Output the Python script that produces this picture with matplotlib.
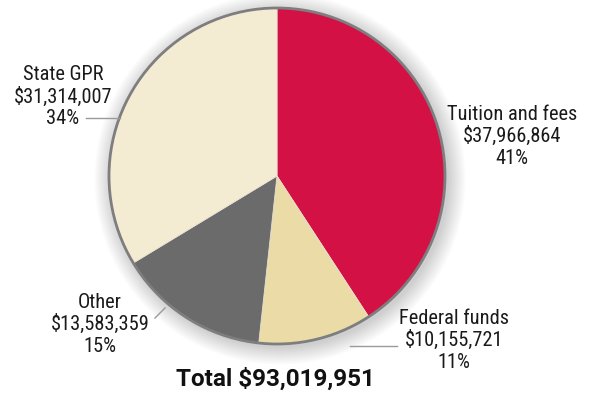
import matplotlib.pyplot as plt
from matplotlib.patches import Circle
from matplotlib import font_manager

# revenue sources
sources = ['Tuition and fees', 'Federal funds', 'Other', 'State GPR']
amounts = [37966864, 10155721, 13583359, 31314007]
colors = ['#D31145', '#EBDBA6', '#6B6B6C', '#F4ECD2']

W, H = 594, 395
fig = plt.figure(figsize=(W / 100, H / 100), dpi=100)
ax = fig.add_axes([0, 0, 1, 1])

cx, cy, r = 277, H - 176, 168

# soft drop shadow around the pie
for k in range(12):
    ax.add_patch(Circle((cx + 3, cy - 3), r + 1 + k * 1.5, color='#000000',
                        alpha=0.014, lw=0, zorder=0))

ax.pie(amounts, colors=colors, startangle=90, counterclock=False,
       center=(cx, cy), radius=r, frame=True,
       wedgeprops=dict(linewidth=0.6, edgecolor='#E8E0D0'))
ax.add_patch(Circle((cx, cy), r, fill=False, edgecolor='#7E7E80', lw=2.0, zorder=5))
ax.set_xlim(0, W)
ax.set_ylim(0, H)
ax.set_aspect('equal')
ax.axis('off')

total = sum(amounts)
names = {f.name for f in font_manager.fontManager.ttflist}
font = [f for f in ['Roboto Condensed', 'Liberation Sans Narrow', 'Roboto'] if f in names] + ['DejaVu Sans']

# label anchor (x, y of first line) and leader line per source
label_pos = [(512, 114), (454, 318), (100, 302), (63, 75)]
leaders = [None, [(350, 397), (346, 346)], [(155, 165), (318, 308)], [(86, 120), (118, 118)]]

for name, amt, (lx, ly), lead in zip(sources, amounts, label_pos, leaders):
    pct = round(amt / total * 100)
    lines = [name, f'${amt:,}', f'{pct}%']
    for i, s in enumerate(lines):
        ax.text(lx, H - (ly + i * 22), s, ha='center', va='center',
                fontsize=14.7, family=font, color='#1A1A1A', zorder=6)
    if lead:
        xs, ys = lead
        ax.plot(xs, [H - y for y in ys], color='#9A9A9A', lw=1, zorder=6)

ax.text(275, H - 379, f'Total ${total:,}', ha='center', va='center',
        fontsize=17.5, fontweight='bold', family=['Roboto', 'Liberation Sans', 'DejaVu Sans'],
        color='#111111')

plt.savefig('out.png', dpi=100)
